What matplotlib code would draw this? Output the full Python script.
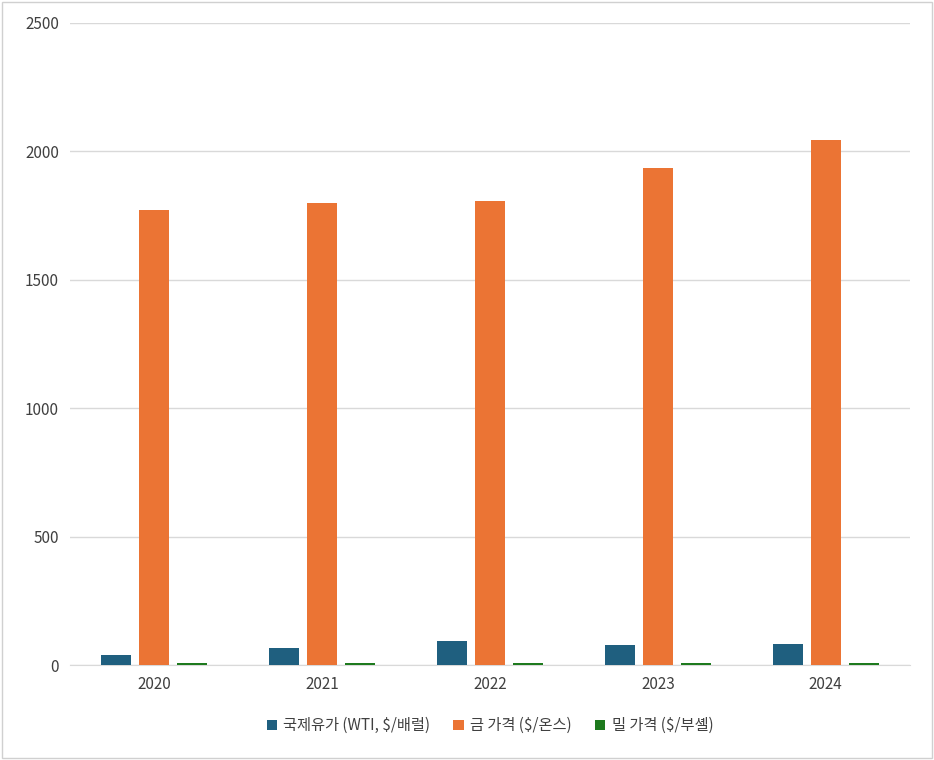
import numpy as np
import matplotlib.pyplot as plt
from matplotlib.patches import Rectangle

plt.rcParams['font.family'] = ['Noto Sans CJK JP', 'Noto Sans CJK KR', 'Noto Sans CJK SC',
                               'Noto Sans CJK TC', 'DejaVu Sans']

years = ['2020', '2021', '2022', '2023', '2024']
oil = [39, 68, 94, 78, 80]
gold = [1770, 1799, 1808, 1933, 2045]
wheat = [6, 7, 9, 7, 6]
names = ['국제유가 (WTI, $/배럴)', '금 가격 ($/온스)', '밀 가격 ($/부셸)']
colors = ['#1f5f7f', '#eb7434', '#1e7a1e']

fig = plt.figure(figsize=(9.34, 7.6), dpi=100)
ax = fig.add_axes([0.075, 0.125, 0.899, 0.845])
fig.patches.append(Rectangle((0.002, 0.002), 0.996, 0.996, transform=fig.transFigure,
                             fill=False, edgecolor='#d0d0d0', lw=1))

x = np.arange(len(years))
w = 0.18
step = 0.226
for i, vals in enumerate([oil, gold, wheat]):
    ax.bar(x + (i - 1) * step, vals, w, color=colors[i], label=names[i], zorder=3)

ax.set_xlim(-0.5, 4.5)
ax.set_ylim(0, 2500)
ax.set_yticks(range(0, 2501, 500))
ax.set_xticks(x)
ax.set_xticklabels(years)
ax.grid(axis='y', color='#d9d9d9', lw=1, zorder=0)
for s in ['top', 'right', 'left']:
    ax.spines[s].set_visible(False)
ax.spines['bottom'].set_color('#d9d9d9')
ax.tick_params(length=0, labelsize=11, colors='#404040', pad=8)
ax.legend(loc='upper center', bbox_to_anchor=(0.5, -0.06), ncol=3, frameon=False,
          fontsize=11, handlelength=0.7, handleheight=0.7, columnspacing=1.5,
          handletextpad=0.4, labelcolor='#404040')

fig.savefig('out.png')
